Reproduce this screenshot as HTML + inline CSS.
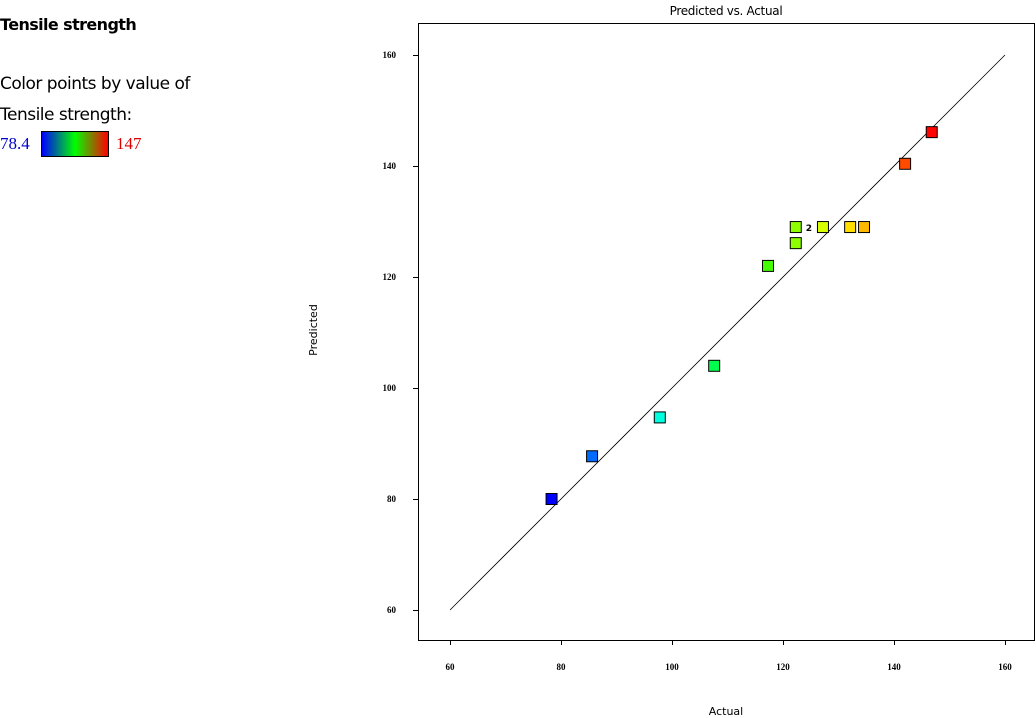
<!DOCTYPE html>
<html><head><meta charset="utf-8"><style>
body{margin:0;background:#fff;width:1036px;height:718px;overflow:hidden;font-family:"DejaVu Sans","Liberation Sans",sans-serif}
.t{position:absolute;color:#000}
</style></head><body>
<div class="t" style="left:0;top:15px;font-size:16px;font-weight:bold;letter-spacing:-0.6px">Tensile strength</div>
<div class="t" style="left:0;top:74px;font-size:17px;letter-spacing:-0.5px">Color points by value of</div>
<div class="t" style="left:0;top:105px;font-size:17px;letter-spacing:-0.5px">Tensile strength:</div>
<div class="t" style="left:0;top:134px;font-size:17px;color:#0000cc;font-family:'Liberation Serif',serif">78.4</div>
<div style="position:absolute;left:41px;top:131px;width:66px;height:24px;border:1px solid #000;background:linear-gradient(to right,#0000ff,#00ff00 50%,#ff0000)"></div>
<div class="t" style="left:116px;top:134px;font-size:17px;color:#dd0000;font-family:'Liberation Serif',serif">147</div>
<svg id="chart" width="1036" height="718" style="position:absolute;left:0;top:0" font-family="DejaVu Sans, Liberation Sans, sans-serif"></svg>
<script>
const actual=[78.3,85.6,97.8,107.6,117.3,122.3,122.3,127.2,132.1,134.6,142,146.8];
const predicted=[80,87.7,94.7,104,122,129,126.1,129,129,129,140.4,146.1];
const labels=["","","","","","2","","","","","",""];
const ticks=[60,80,100,120,140,160];
const ns="http://www.w3.org/2000/svg";
const svg=document.getElementById('chart');
const sx=v=>450+(v-60)*5.55, sy=v=>610-(v-60)*5.55;
function mk(t,a,txt){const e=document.createElementNS(ns,t);for(const k in a)e.setAttribute(k,a[k]);if(txt!=null)e.textContent=txt;svg.appendChild(e);return e;}
let e=mk('rect',{x:418.5,y:23.5,width:616,height:617,fill:'none',stroke:'#000'});


e=mk('text',{x:726,y:15,'font-size':12,'text-anchor':'middle','letter-spacing':'-0.3'},'Predicted vs. Actual');


e=mk('text',{x:726,y:715,'font-size':11,'text-anchor':'middle'},'Actual');


e=mk('text',{x:317,y:330,'font-size':11,'text-anchor':'middle',transform:'rotate(-90 317 330)'},'Predicted');


ticks.forEach(t=>{
 e=mk('line',{x1:sx(t)+.5,x2:sx(t)+.5,y1:640,y2:645,stroke:'#000'});
 
 
 e=mk('text',{x:sx(t),y:670,'font-size':9,'font-weight':'bold','text-anchor':'middle','font-family':'Liberation Serif, serif'},t);
 
 
 e=mk('line',{x1:413,x2:418,y1:sy(t)+.5,y2:sy(t)+.5,stroke:'#000'});
 
 
 e=mk('text',{x:396,y:sy(t)+3,'font-size':9,'font-weight':'bold','text-anchor':'end','font-family':'Liberation Serif, serif'},t);
 
 
});
e=mk('line',{x1:sx(60),y1:sy(60),x2:sx(160),y2:sy(160),stroke:'#000','stroke-width':0.8});


actual.forEach((a,i)=>{
 const h=Math.max(0,Math.min(240,240*(147-a)/68.6));
 e=mk('rect',{x:sx(a)-5.5,y:sy(predicted[i])-5.5,width:11,height:11,fill:`hsl(${h},100%,50%)`,stroke:'#000','stroke-width':1});
 
 
 if(labels[i]){
  e=mk('text',{x:sx(a)+10,y:sy(predicted[i])+4,'font-size':9,'font-weight':'bold'},labels[i]);
  
  
 }
});
</script>
</body></html>
